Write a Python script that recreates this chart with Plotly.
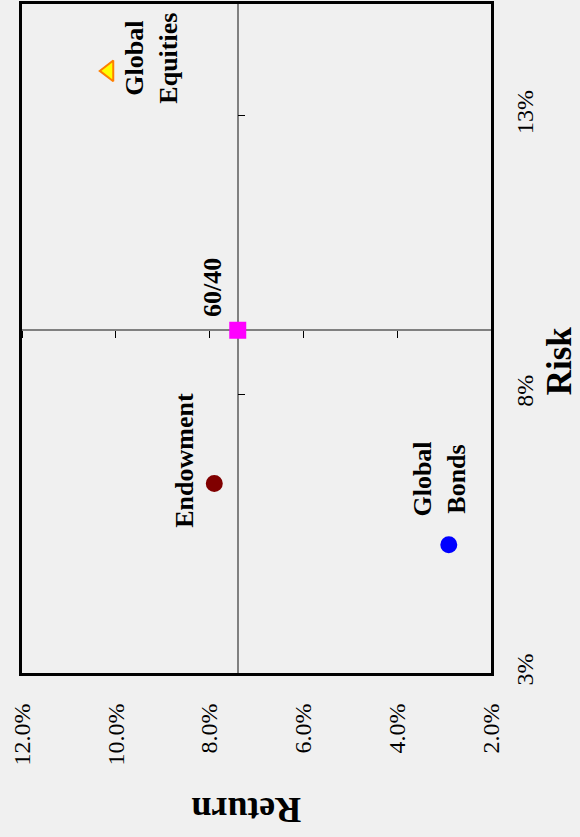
import plotly.graph_objects as go

# data (return %, risk %)
names = ["Global Equities", "60/40", "Endowment", "Global Bonds"]
labels = ["<b>Global<br>Equities</b>", "<b>60/40</b>", "<b>Endowment</b>", "<b>Global<br>Bonds</b>"]
returns = [10.15, 7.4, 7.9, 2.9]
risks = [13.8, 9.15, 6.4, 5.3]

return_ticks = [12, 10, 8, 6, 4, 2]
return_ticktext = ["12.0%", "10.0%", "8.0%", "6.0%", "4.0%", "2.0%"]
risk_ticks = [3, 8, 13]
risk_ticktext = ["3%", "8%", "13%"]

return_range = [12, 2]
risk_range = [3, 15]

symbols = ["triangle-left", "square", "circle", "circle"]
colors = ["#FFFF00", "#FF00FF", "#800000", "#0000FF"]
outlines = ["#FF7F00", "#FF00FF", "#800000", "#0000FF"]
sizes = [18, 15, 15, 15]
# label offsets in px from each point
shifts = [(43, 13), (-26, 43), (-30, 23), (-9, 66)]

FONT = "Liberation Serif, Times New Roman, serif"
BG = "#f0f0f0"

fig = go.Figure()
for i in range(len(names)):
    fig.add_trace(go.Scatter(
        x=[returns[i]], y=[risks[i]],
        mode="markers",
        name=names[i],
        marker=dict(symbol=symbols[i], size=sizes[i], color=colors[i],
                    line=dict(color=outlines[i], width=2)),
        hoverinfo="skip",
    ))
    fig.add_annotation(x=returns[i], y=risks[i], xref="x", yref="y",
                       text=labels[i], showarrow=False, textangle=-90,
                       xanchor="center", yanchor="middle",
                       xshift=shifts[i][0], yshift=shifts[i][1],
                       font=dict(family=FONT, size=26, color="black"))

# cross hair axes go through the 60/40 point
cross_x = (return_range[0] - returns[1]) / (return_range[0] - return_range[1])
cross_y = (risks[1] - risk_range[0]) / (risk_range[1] - risk_range[0])

fig.update_layout(
    width=580, height=837,
    margin=dict(l=22, r=89, t=1, b=164),
    paper_bgcolor=BG, plot_bgcolor=BG,
    showlegend=False,
    font=dict(family=FONT, size=24, color="black"),
    xaxis=dict(range=return_range, tickvals=return_ticks, ticktext=return_ticktext,
               tickangle=-90, showgrid=False, zeroline=False,
               showline=True, mirror=True, linecolor="black", linewidth=3,
               ticks="", ticklabelstandoff=18),
    yaxis=dict(range=risk_range, tickvals=risk_ticks, ticktext=risk_ticktext,
               side="right", tickangle=-90, showgrid=False, zeroline=False,
               showline=True, mirror=True, linecolor="black", linewidth=3,
               ticks="", ticklabelstandoff=10),
    xaxis2=dict(overlaying="x", anchor="free", position=cross_y, range=return_range,
                dtick=2, tick0=2, showticklabels=False, ticks="outside", ticklen=7,
                tickcolor="black", tickwidth=1, showline=True, linecolor="#808080",
                linewidth=1.5, showgrid=False, zeroline=False, layer="below traces"),
    yaxis2=dict(overlaying="y", anchor="free", position=cross_x, side="right",
                range=risk_range, tickvals=risk_ticks, showticklabels=False,
                ticks="outside", ticklen=7, tickcolor="black", tickwidth=1,
                showline=True, linecolor="#808080", linewidth=1.5,
                showgrid=False, zeroline=False, layer="below traces"),
)

# invisible trace so the cross hair subplot gets drawn
fig.add_trace(go.Scatter(x=[returns[1]], y=[risks[1]], xaxis="x2", yaxis="y2",
                         mode="markers", marker=dict(opacity=0), hoverinfo="skip"))

fig.add_annotation(text="<b>Return</b>", xref="paper", yref="paper",
                   x=0.478, y=-0.204, xanchor="center", yanchor="middle",
                   showarrow=False, textangle=180,
                   font=dict(family=FONT, size=36, color="black"))
fig.add_annotation(text="<b>Risk</b>", xref="paper", yref="paper",
                   x=1.145, y=0.466, xanchor="center", yanchor="middle",
                   showarrow=False, textangle=-90, borderpad=0,
                   font=dict(family=FONT, size=35, color="black"))

fig.write_html("out.html", config={"displayModeBar": False},
               post_script="document.body.style.margin='0';")
